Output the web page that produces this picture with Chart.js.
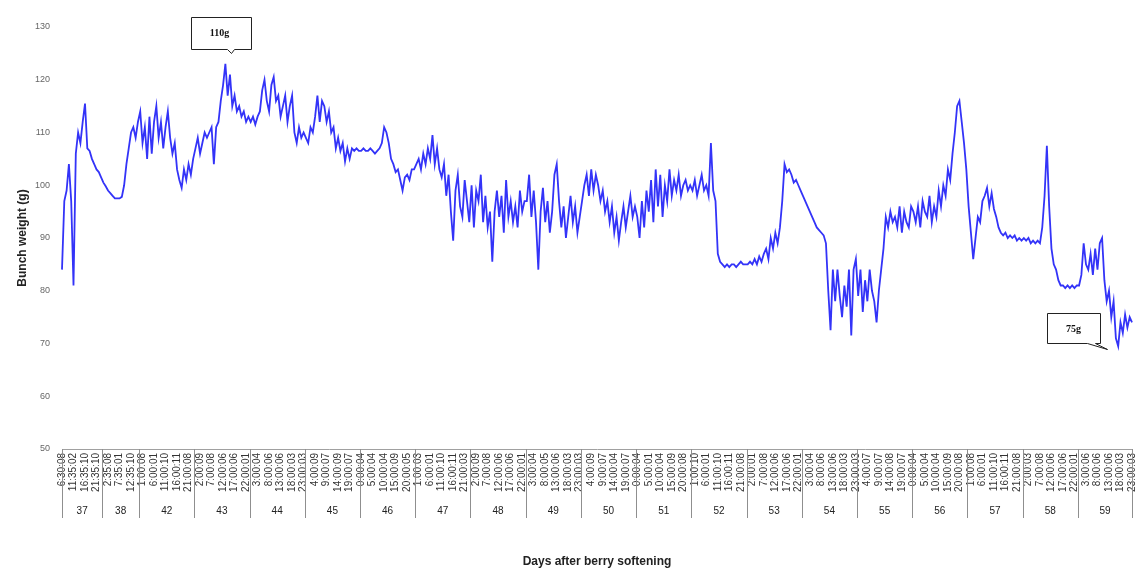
<!DOCTYPE html>
<html>
<head>
    <title>Bunch weight</title>
    <script src="https://cdn.jsdelivr.net/npm/chart.js"></script>
    <style>
        html, body { margin: 0; padding: 0; background: #fff; }
        .chart-box { width: 1137px; height: 577px; }
    </style>
</head>
<body>
    <div class="chart-box">
        <canvas id="chart-bunch" width="1137" height="577"></canvas>
    </div>

    <script>
        // días después del envero y número de muestras (horarias) de cada día
        const days = [37, 38, 42, 43, 44, 45, 46, 47, 48, 49, 50, 51, 52, 53, 54, 55, 56, 57, 58, 59];
        const samplesPerDay = [18, 16, 24, 24, 24, 24, 24, 24, 24, 24, 24, 24, 24, 24, 24, 24, 24, 24, 24, 24];

        // una etiqueta de hora cada 5 muestras
        const timeTicks = [
            "6:30:08", "11:35:02", "16:35:10", "21:35:10",
            "2:35:08", "7:35:01", "12:35:10",
            "1:00:08", "6:00:01", "11:00:10", "16:00:11", "21:00:08",
            "2:00:09", "7:00:08", "12:00:06", "17:00:06", "22:00:01",
            "3:00:04", "8:00:06", "13:00:06", "18:00:03", "23:00:03",
            "4:00:09", "9:00:07", "14:00:09", "19:00:07",
            "0:00:04", "5:00:04", "10:00:04", "15:00:09", "20:00:05",
            "1:00:03", "6:00:01", "11:00:10", "16:00:11", "21:00:03",
            "2:00:09", "7:00:08", "12:00:06", "17:00:06", "22:00:01",
            "3:00:04", "8:00:05", "13:00:06", "18:00:03", "23:00:03",
            "4:00:09", "9:00:07", "14:00:04", "19:00:07",
            "0:00:04", "5:00:01", "10:00:04", "15:00:09", "20:00:08",
            "1:00:10", "6:00:01", "11:00:10", "16:00:11", "21:00:08",
            "2:00:01", "7:00:08", "12:00:06", "17:00:06", "22:00:01",
            "3:00:04", "8:00:06", "13:00:06", "18:00:03", "23:00:03",
            "4:00:07", "9:00:07", "14:00:08", "19:00:07",
            "0:00:04", "5:00:04", "10:00:04", "15:00:09", "20:00:08",
            "1:00:08", "6:00:01", "11:00:10", "16:00:11", "21:00:08",
            "2:00:03", "7:00:08", "12:00:06", "17:00:06", "22:00:01",
            "3:00:06", "8:00:06", "13:00:06", "18:00:03", "23:00:03"
        ];

        // peso del racimo (g), una fila por día
        const bunchWeight = [
            84, 97, 99, 104, 97, 81, 106, 110, 108, 112, 115.5, 107, 106.5, 105, 104, 103, 102.5, 101.5,
            100.5, 99.8, 99, 98.5, 98, 97.5, 97.5, 97.5, 97.8, 100, 104, 107, 110, 111, 109, 112,
            114, 108, 111, 105, 113, 106, 112, 115, 109, 112, 107, 111, 114, 109, 106, 108, 103, 101, 99.5, 103, 101, 104, 102, 105,
            107, 109, 106, 108, 110, 109, 110, 111, 104, 111, 112, 116, 119, 123, 117, 121, 115, 117, 114, 115, 113, 114, 112, 113,
            112, 113, 111.5, 113, 114, 118, 120, 116, 114, 119, 120.5, 116, 117, 113, 115, 117, 112, 115, 117, 110, 108, 111, 109, 110,
            109, 108, 111, 110, 113, 117, 112, 116, 115, 112, 114, 110, 111, 107, 109, 106.5, 108, 104.5, 107, 105, 107, 106.5, 107, 106.5,
            106.5, 107, 106.5, 106.5, 107, 106.5, 106, 106.5, 107, 108, 111, 110, 108, 105, 104, 102.5, 103, 101, 99, 101.5, 102, 101, 103, 103,
            104, 105, 103, 106, 104, 107, 105, 109.5, 104, 107, 103, 101.5, 104, 98, 102, 95, 89.5, 99, 102, 96, 94, 101, 97, 93,
            100, 92, 99, 97, 102, 93, 98, 92, 95, 85.5, 95, 99, 94, 98, 91, 101, 94, 97, 93, 96, 92, 99, 95, 97,
            97, 102, 94, 99, 93, 84, 95, 99.5, 93, 97, 91, 95, 102, 104, 97, 92, 96, 90, 94, 98, 93, 96, 91, 94,
            97, 100, 102, 98, 103, 99, 102, 100, 97, 99, 95, 97, 93, 96, 91, 94, 89.5, 93, 96, 92, 95, 98, 94, 96,
            94, 90, 97, 92, 99, 95, 101, 93, 103, 96, 102, 94, 100, 97, 103, 98, 101, 99, 102, 98, 100, 101, 99, 100,
            99, 101, 98, 100, 102, 99, 100, 98, 108, 99, 97, 87, 85.5, 85, 84.5, 85, 84.5, 85, 85, 84.5, 85, 85.5, 85, 85,
            85, 85.5, 85, 86, 85, 86.5, 85.5, 87, 88, 86, 90, 88, 91, 89, 92, 97, 104, 102.5, 103, 102, 100.5, 101, 100, 99,
            98, 97, 96, 95, 94, 93, 92, 91.5, 91, 90.5, 89, 80, 72.5, 84, 78, 84, 79, 75, 81, 77, 84, 71.5, 84, 86,
            79, 84, 76, 82, 78, 84, 80, 78, 74, 80, 84, 88, 94, 92, 95, 93, 94, 92, 96, 91, 95, 93, 92, 96,
            95, 93, 96, 92, 97, 95, 94, 98, 93, 96, 94, 99, 96, 100, 98, 103, 101, 106, 110, 115, 116, 112, 108, 103,
            96, 91, 86, 90, 94, 93, 97, 98, 99.5, 96, 98.5, 95.5, 94, 92, 91, 90.5, 91, 90, 90.5, 90, 90.5, 89.5, 90, 89.5,
            90, 89.5, 90, 89, 89.5, 89, 89.5, 89, 92, 98, 107.5, 96, 88, 85, 84, 82, 81, 81, 80.5, 81, 80.5, 81, 80.5, 81,
            81, 83, 89, 85, 84, 87, 83, 88, 84, 89, 90, 82, 78, 80, 75, 78, 71, 69.5, 74, 72, 75.5, 73, 75, 74
        ];

        const calloutTexts = ["110g", "75g"];

        Chart.defaults.font.family = '"Liberation Sans", Arial, sans-serif';

        // etiqueta de hora solo en cada quinta muestra
        const sampleLabels = bunchWeight.map((v, i) => i % 5 === 0 ? timeTicks[i / 5] : "");

        // líneas separadoras y números de día bajo las horas
        const dayGroups = {
            id: "dayGroups",
            afterDraw(chart) {
                const { ctx, chartArea } = chart;
                const x = chart.scales.x;
                const clamp = p => Math.min(chartArea.right, Math.max(chartArea.left, p));
                ctx.save();
                ctx.strokeStyle = "#8f8f8f";
                ctx.lineWidth = 1;
                ctx.fillStyle = "#222";
                ctx.font = '10px "Liberation Sans", Arial, sans-serif';
                ctx.textAlign = "center";
                ctx.textBaseline = "middle";
                let start = 0;
                days.forEach((d, k) => {
                    const end = start + samplesPerDay[k];
                    const x0 = clamp(x.getPixelForValue(start - 0.5));
                    const x1 = clamp(x.getPixelForValue(end - 0.5));
                    if (k === 0) {
                        ctx.beginPath();
                        ctx.moveTo(Math.round(x0) + 0.5, chartArea.bottom);
                        ctx.lineTo(Math.round(x0) + 0.5, chartArea.bottom + 69);
                        ctx.stroke();
                    }
                    ctx.beginPath();
                    ctx.moveTo(Math.round(x1) + 0.5, chartArea.bottom);
                    ctx.lineTo(Math.round(x1) + 0.5, chartArea.bottom + 69);
                    ctx.stroke();
                    ctx.fillText(String(d), (x0 + x1) / 2, chartArea.bottom + 62);
                    start = end;
                });
                ctx.restore();
            }
        };

        // cuadros de texto con el peso máximo y mínimo
        const callouts = {
            id: "callouts",
            afterDatasetsDraw(chart) {
                const { ctx } = chart;
                const x = chart.scales.x;
                const y = chart.scales.y;
                const iMax = bunchWeight.indexOf(Math.max(...bunchWeight));
                const iMin = bunchWeight.indexOf(Math.min(...bunchWeight));
                const pMax = { x: x.getPixelForValue(iMax), y: y.getPixelForValue(bunchWeight[iMax]) };
                const pMin = { x: x.getPixelForValue(iMin), y: y.getPixelForValue(bunchWeight[iMin]) };

                ctx.save();
                ctx.strokeStyle = "#222";
                ctx.fillStyle = "#fff";
                ctx.lineWidth = 1;

                // 110g, encima del pico
                let bx = Math.round(pMax.x) - 33.5, by = 17.5, bw = 60, bh = 32;
                ctx.beginPath();
                ctx.moveTo(bx, by);
                ctx.lineTo(bx + bw, by);
                ctx.lineTo(bx + bw, by + bh);
                ctx.lineTo(bx + 43, by + bh);
                ctx.lineTo(bx + 40, by + bh + 4);
                ctx.lineTo(bx + 36, by + bh);
                ctx.lineTo(bx, by + bh);
                ctx.closePath();
                ctx.fill();
                ctx.stroke();
                ctx.fillStyle = "#111";
                ctx.font = 'bold 10px "Liberation Serif", "Times New Roman", serif';
                ctx.textAlign = "center";
                ctx.textBaseline = "middle";
                ctx.fillText(calloutTexts[0], bx + 28, by + 16);

                // 75g, a la izquierda del mínimo
                bx = Math.round(pMin.x) - 70.5; by = Math.round(pMin.y) - 32.5; bw = 53; bh = 30;
                ctx.fillStyle = "#fff";
                ctx.beginPath();
                ctx.moveTo(bx, by);
                ctx.lineTo(bx + bw, by);
                ctx.lineTo(bx + bw, by + bh);
                ctx.lineTo(bx + 48, by + bh);
                ctx.lineTo(bx + 60, by + bh + 6);
                ctx.lineTo(bx + 40, by + bh);
                ctx.lineTo(bx, by + bh);
                ctx.closePath();
                ctx.fill();
                ctx.stroke();
                ctx.fillStyle = "#111";
                ctx.fillText(calloutTexts[1], bx + 26, by + 16);
                ctx.restore();
            }
        };

        const ctx = document.getElementById("chart-bunch").getContext("2d");

        new Chart(ctx, {
            type: "line",
            data: {
                labels: sampleLabels,
                datasets: [{
                    label: "Bunch weight",
                    data: bunchWeight,
                    borderColor: "#3333f8",
                    borderWidth: 1.8,
                    pointRadius: 0,
                    tension: 0,
                    fill: false
                }]
            },
            options: {
                responsive: false,
                animation: false,
                devicePixelRatio: 1,
                layout: { padding: { top: 27, right: 5, left: 0, bottom: 0 } },
                plugins: {
                    legend: { display: false },
                    tooltip: { enabled: false }
                },
                scales: {
                    x: {
                        type: "category",
                        grid: { display: false, drawTicks: false },
                        border: { display: true, color: "#a0a0a0" },
                        ticks: {
                            autoSkip: false,
                            minRotation: 90,
                            maxRotation: 90,
                            padding: 4,
                            color: "#333",
                            font: { size: 10 }
                        },
                        title: {
                            display: true,
                            text: "Days after berry softening",
                            color: "#222",
                            font: { size: 12, weight: "bold" },
                            padding: { top: 0, bottom: 8 }
                        },
                        afterFit: s => {
                            s.height = 128;
                            s.paddingLeft = 0;
                            s.paddingRight = 0;
                        }
                    },
                    y: {
                        min: 50,
                        max: 130,
                        grid: { display: false, drawTicks: false },
                        border: { display: false },
                        ticks: {
                            stepSize: 10,
                            padding: 12,
                            color: "#666",
                            font: { size: 9 }
                        },
                        title: {
                            display: true,
                            text: "Bunch weight (g)",
                            color: "#222",
                            font: { size: 12, weight: "bold" },
                            padding: { top: 15, bottom: 0 }
                        },
                        afterFit: s => { s.width = 62; }
                    }
                }
            },
            plugins: [dayGroups, callouts]
        });
    </script>
</body>
</html>
